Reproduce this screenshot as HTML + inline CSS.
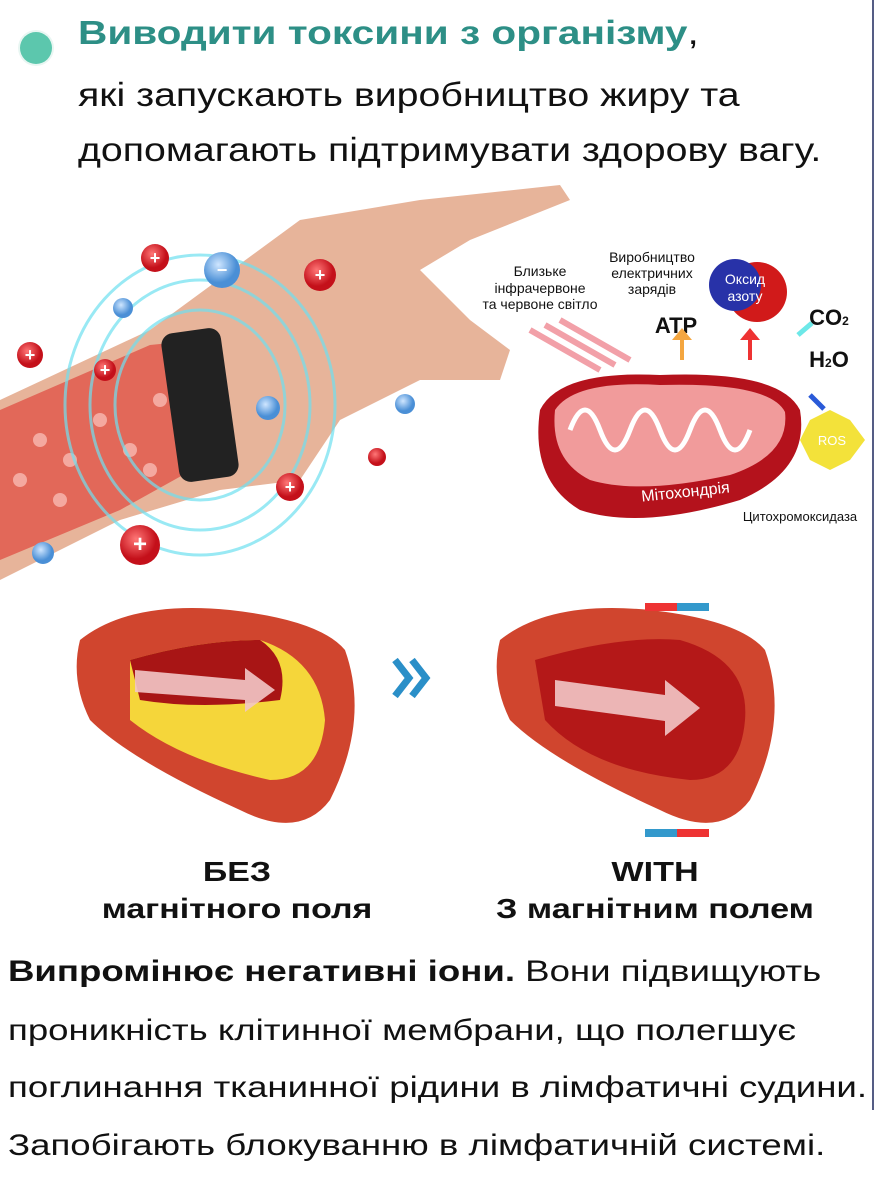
<!DOCTYPE html>
<html><head><meta charset="utf-8"><style>
html,body{margin:0;padding:0;background:#fff;}
body{width:880px;height:1187px;position:relative;overflow:hidden;font-family:"Liberation Sans","DejaVu Sans",sans-serif;}
.t{position:absolute;white-space:nowrap;color:#111;transform-origin:0 50%;}
.c{transform-origin:50% 50%;}
</style></head><body>
<div style="position:absolute;left:872px;top:0;width:2px;height:1110px;background:#2a3566;opacity:.8"></div>
<div style="position:absolute;left:20px;top:32px;width:32px;height:32px;border-radius:50%;background:#5cc7ad;box-shadow:0 0 0 2px #e8f6f2"></div>
<div class="t" style="left:78px;top:14px;font-size:33px;transform:scaleX(1.23)"><b style="color:#2d8f86">Виводити токсини з організму</b>,</div>
<div class="t" style="left:78px;top:76px;font-size:33px;transform:scaleX(1.19)">які запускають виробництво жиру та</div>
<div class="t" style="left:78px;top:131px;font-size:33px;transform:scaleX(1.19)">допомагають підтримувати здорову вагу.</div>

<svg style="position:absolute;left:0;top:180px" width="880" height="680" viewBox="0 180 880 680">
<defs>
<radialGradient id="rp" cx=".4" cy=".35"><stop offset="0" stop-color="#f77"/><stop offset="1" stop-color="#c4101a"/></radialGradient>
<radialGradient id="bp" cx=".4" cy=".35"><stop offset="0" stop-color="#cfe6ff"/><stop offset="1" stop-color="#4a8fd6"/></radialGradient>
</defs>
<path d="M0 400 L150 330 L300 220 L420 200 L560 185 L570 200 L470 240 L420 270 L470 320 L510 350 L500 380 L420 380 L340 420 L300 480 L220 490 L120 520 L0 580 Z" fill="#e7b49a"/>
<path d="M0 410 L150 345 L200 340 L210 460 L120 510 L0 560Z" fill="#e05a4e" opacity=".85"/>
<g fill="#f4a9a0">
<circle cx="40" cy="440" r="7"/><circle cx="70" cy="460" r="7"/><circle cx="100" cy="420" r="7"/><circle cx="130" cy="450" r="7"/><circle cx="160" cy="400" r="7"/><circle cx="60" cy="500" r="7"/><circle cx="150" cy="470" r="7"/><circle cx="20" cy="480" r="7"/></g>
<rect x="170" y="330" width="60" height="150" rx="12" fill="#222" transform="rotate(-8 200 405)"/>
<g fill="none" stroke="#6fe0f0" stroke-width="3" opacity=".7">
<ellipse cx="200" cy="405" rx="85" ry="95"/><ellipse cx="200" cy="405" rx="110" ry="125"/><ellipse cx="200" cy="405" rx="135" ry="150"/></g>
<g font-weight="bold" fill="#fff" text-anchor="middle" font-size="18">
<circle cx="155" cy="258" r="14" fill="url(#rp)"/><text x="155" y="264">+</text>
<circle cx="320" cy="275" r="16" fill="url(#rp)"/><text x="320" y="281">+</text>
<circle cx="30" cy="355" r="13" fill="url(#rp)"/><text x="30" y="361">+</text>
<circle cx="105" cy="370" r="11" fill="url(#rp)"/><text x="105" y="376">+</text>
<circle cx="290" cy="487" r="14" fill="url(#rp)"/><text x="290" y="493">+</text>
<circle cx="140" cy="545" r="20" fill="url(#rp)"/><text x="140" y="552" font-size="24">+</text>
<circle cx="377" cy="457" r="9" fill="url(#rp)"/>
<circle cx="222" cy="270" r="18" fill="url(#bp)"/><text x="222" y="276">−</text>
<circle cx="123" cy="308" r="10" fill="url(#bp)"/>
<circle cx="268" cy="408" r="12" fill="url(#bp)"/>
<circle cx="405" cy="404" r="10" fill="url(#bp)"/>
<circle cx="43" cy="553" r="11" fill="url(#bp)"/>
</g>
<g font-size="14" fill="#111" text-anchor="middle">
<text x="540" y="276">Близьке</text><text x="540" y="293">інфрачервоне</text><text x="540" y="309">та червоне світло</text>
<text x="652" y="262">Виробництво</text><text x="652" y="278">електричних</text><text x="652" y="294">зарядів</text>
<text x="676" y="333" font-size="22" font-weight="bold">ATP</text>
<text x="829" y="325" font-size="22" font-weight="bold">CO<tspan font-size="12">2</tspan></text>
<text x="829" y="367" font-size="22" font-weight="bold">H<tspan font-size="12">2</tspan>O</text>
<text x="800" y="521" font-size="13">Цитохромоксидаза</text>
</g>
<path d="M530 330 l70 40 M545 325 l70 40 M560 320 l70 40" stroke="#f2a0a8" stroke-width="6" fill="none"/>
<circle cx="757" cy="292" r="30" fill="#d11a1a"/><circle cx="735" cy="285" r="26" fill="#2832a8"/>
<text x="745" y="284" font-size="14" fill="#fff" text-anchor="middle">Оксид</text><text x="745" y="301" font-size="14" fill="#fff" text-anchor="middle">азоту</text>
<path d="M680 360 l0 -20 l-8 0 l10 -12 l10 12 l-8 0 l0 20z" fill="#f4a640"/>
<path d="M748 360 l0 -20 l-8 0 l10 -12 l10 12 l-8 0 l0 20z" fill="#e33"/>
<path d="M798 335 l14 -12" stroke="#6de8e8" stroke-width="5"/>
<path d="M810 395 l14 14" stroke="#2a5ad8" stroke-width="5"/>
<polygon points="830,410 850,420 865,440 850,460 830,470 810,460 800,440 810,420" fill="#f3e23a"/>
<text x="832" y="445" font-size="13" fill="#fff" text-anchor="middle">ROS</text>
<path d="M540 410 Q560 370 660 375 Q780 370 800 410 Q810 470 740 500 Q640 530 580 510 Q530 480 540 410Z" fill="#b4121c"/>
<path d="M555 410 Q575 380 660 385 Q770 382 785 412 Q790 455 730 475 Q640 495 590 480 Q550 460 555 410Z" fill="#f19b9b"/>
<path d="M570 430 q15 -40 30 0 q15 40 30 0 q15 -40 30 0 q15 40 30 0 q15 -40 30 0 q15 40 30 0" stroke="#fff" stroke-width="5" fill="none"/>
<text x="686" y="497" font-size="16" fill="#fff" text-anchor="middle" transform="rotate(-6 686 497)">Мітохондрія</text>
<path d="M80 640 Q130 600 230 610 Q320 620 345 650 Q370 720 330 800 Q300 840 240 810 Q130 760 90 720 Q70 680 80 640Z" fill="#d0452e"/>
<path d="M130 660 Q200 640 260 640 Q320 660 325 720 Q320 780 270 780 Q180 760 130 720Z" fill="#f5d63a"/>
<path d="M130 660 Q200 640 260 640 Q290 660 280 700 Q200 710 140 700Z" fill="#a81515"/>
<path d="M135 670 l110 10 l0 -12 l30 22 l-30 22 l0 -12 l-110 -8z" fill="#f2c7c7" opacity=".9"/>
<path d="M500 640 Q550 600 650 610 Q740 620 765 650 Q790 720 750 800 Q720 840 660 810 Q550 760 510 720 Q490 680 500 640Z" fill="#d0452e"/>
<path d="M535 660 Q620 635 680 640 Q750 660 745 720 Q740 780 690 780 Q590 770 545 720Z" fill="#b41818"/>
<path d="M555 680 l110 15 l0 -15 l35 28 l-35 28 l0 -15 l-110 -15z" fill="#f2c7c7" opacity=".9"/>
<path d="M395 660 l14 18 l-14 18 M412 660 l14 18 l-14 18" stroke="#2a8fc8" stroke-width="7" fill="none"/>
<rect x="645" y="603" width="32" height="8" fill="#e33"/><rect x="677" y="603" width="32" height="8" fill="#39c"/>
<rect x="645" y="829" width="32" height="8" fill="#39c"/><rect x="677" y="829" width="32" height="8" fill="#e33"/>
</svg>

<div class="t c" style="left:0;width:474px;text-align:center;top:853px;font-size:28px;font-weight:bold;line-height:37px;transform:scaleX(1.21)">БЕЗ<br>магнітного поля</div>
<div class="t c" style="left:460px;width:390px;text-align:center;top:853px;font-size:28px;font-weight:bold;line-height:37px;transform:scaleX(1.22)">WITH<br>З магнітним полем</div>

<div class="t" style="left:8px;top:955px;font-size:30px;transform:scaleX(1.22)"><b>Випромінює негативні іони.</b> Вони підвищують</div>
<div class="t" style="left:8px;top:1014px;font-size:30px;transform:scaleX(1.22)">проникність клітинної мембрани, що полегшує</div>
<div class="t" style="left:8px;top:1071px;font-size:30px;transform:scaleX(1.22)">поглинання тканинної рідини в лімфатичні судини.</div>
<div class="t" style="left:8px;top:1129px;font-size:30px;transform:scaleX(1.22)">Запобігають блокуванню в лімфатичній системі.</div>
</body></html>
